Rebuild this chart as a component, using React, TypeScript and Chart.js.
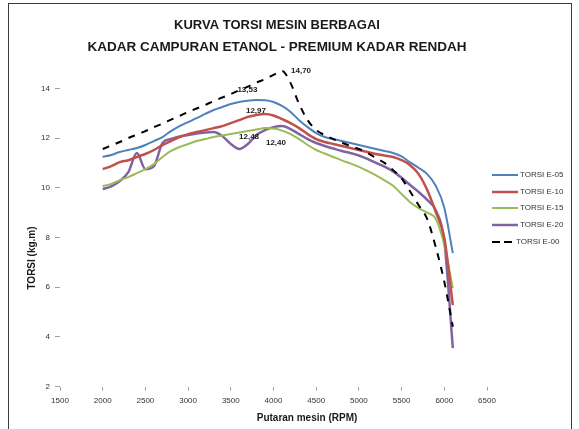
import React, { useEffect, useRef } from 'react';
import { Chart, registerables } from 'chart.js';

Chart.register(...registerables);

// ---------- data ----------
const rpm = [
  2000, 2100, 2200, 2300, 2400, 2500, 2600, 2700, 2800, 2900,
  3000, 3100, 3200, 3300, 3400, 3500, 3600, 3700, 3800, 3900,
  4000, 4100, 4200, 4300, 4400, 4500, 4600, 4700, 4800, 4900,
  5000, 5100, 5200, 5300, 5400, 5500, 5600, 5700, 5800, 5900,
  6000, 6100,
];

const torsiE05 = [
  11.24, 11.32, 11.44, 11.52, 11.60, 11.72, 11.88, 12.04, 12.28, 12.48,
  12.64, 12.80, 12.97, 13.13, 13.25, 13.37, 13.45, 13.50, 13.53, 13.52,
  13.45, 13.29, 13.05, 12.72, 12.44, 12.20, 12.04, 11.96, 11.88, 11.80,
  11.72, 11.64, 11.56, 11.48, 11.40, 11.26, 11.02, 10.80, 10.55, 10.08,
  9.20, 7.37,
];

const torsiE10 = [
  10.75, 10.87, 11.03, 11.11, 11.24, 11.36, 11.52, 11.72, 11.88, 12.04,
  12.16, 12.24, 12.32, 12.40, 12.48, 12.60, 12.72, 12.85, 12.93, 12.97,
  12.91, 12.76, 12.60, 12.40, 12.16, 11.96, 11.84, 11.76, 11.68, 11.60,
  11.52, 11.44, 11.36, 11.30, 11.24, 11.11, 10.91, 10.55, 9.91, 9.02,
  7.98, 5.28,
];

const torsiE15 = [
  10.07, 10.15, 10.31, 10.43, 10.59, 10.75, 10.95, 11.24, 11.48, 11.64,
  11.76, 11.88, 11.96, 12.04, 12.10, 12.16, 12.22, 12.28, 12.34, 12.40,
  12.38, 12.30, 12.16, 11.96, 11.72, 11.52, 11.38, 11.24, 11.10, 10.98,
  10.84, 10.68, 10.50, 10.30, 10.08, 9.75, 9.42, 9.18, 9.00, 8.75,
  7.70, 5.96,
];

const torsiE20 = [
  9.95, 10.06, 10.27, 10.63, 11.40, 10.75, 10.87, 11.80, 11.96, 12.06,
  12.12, 12.18, 12.22, 12.24, 12.08, 11.76, 11.56, 11.76, 12.12, 12.32,
  12.44, 12.48, 12.36, 12.16, 11.96, 11.80, 11.68, 11.58, 11.48, 11.40,
  11.30, 11.16, 11.00, 10.85, 10.66, 10.40, 10.11, 9.83, 9.51, 9.10,
  7.85, 3.55,
];

const torsiE00 = [
  11.56, 11.70, 11.84, 12.00, 12.14, 12.28, 12.44, 12.58, 12.74, 12.89,
  13.05, 13.19, 13.33, 13.49, 13.63, 13.77, 13.93, 14.07, 14.23, 14.37,
  14.54, 14.70, 14.21, 13.37, 12.72, 12.32, 12.12, 11.96, 11.82, 11.68,
  11.56, 11.40, 11.20, 11.00, 10.71, 10.38, 9.85, 9.30, 8.74, 7.61,
  6.22, 4.41,
];

const seriesLabels = ['TORSI E-05', 'TORSI E-10', 'TORSI E-15', 'TORSI E-20', 'TORSI E-00'];
const seriesValues = [torsiE05, torsiE10, torsiE15, torsiE20, torsiE00];

const xTickValues = [1500, 2000, 2500, 3000, 3500, 4000, 4500, 5000, 5500, 6000, 6500];
const yTickValues = [2, 4, 6, 8, 10, 12, 14];

const titleLines = ['KURVA TORSI MESIN BERBAGAI', 'KADAR CAMPURAN ETANOL - PREMIUM KADAR RENDAH'];
const xTitle = 'Putaran mesin (RPM)';
const yTitle = 'TORSI (kg.m)';

// peak value labels: which series / which point
const peakSeries = [4, 0, 1, 3, 2];
const peakIndex = [21, 18, 19, 21, 19];
const peakText = ['14,70', '13,53', '12,97', '12,48', '12,40'];

// ---------- styles ----------
const FONT = '"Liberation Sans", Arial, sans-serif';
const seriesColors = ['#4F81BD', '#C0504D', '#9BBB59', '#8064A2', '#000000'];
const seriesWidths = [2, 2.5, 2, 2.5, 2];
const peakOffsets = [
  [19, 0],
  [-9, -10],
  [-9, -3],
  [-33, 11],
  [11, 15],
];

const decor = {
  id: 'decor',
  beforeDraw(chart: any) {
    const ctx = chart.ctx;
    ctx.save();
    ctx.fillStyle = '#ffffff';
    ctx.fillRect(0, 0, chart.width, chart.height);
    ctx.restore();
  },
  afterDraw(chart: any) {
    const ctx = chart.ctx;
    ctx.save();
    // frame
    ctx.strokeStyle = '#3a3a3a';
    ctx.lineWidth = 1;
    ctx.setLineDash([]);
    ctx.strokeRect(8.5, 3.5, 563, 440);

    // titles
    ctx.fillStyle = '#1a1a1a';
    ctx.textAlign = 'center';
    ctx.textBaseline = 'middle';
    ctx.font = `bold 13px ${FONT}`;
    ctx.fillText(titleLines[0], 277, 25);
    ctx.font = `bold 13.5px ${FONT}`;
    ctx.fillText(titleLines[1], 277, 47);

    // axis titles
    ctx.font = `bold 10px ${FONT}`;
    ctx.fillText(xTitle, 307, 418);
    ctx.save();
    ctx.translate(32, 258);
    ctx.rotate(-Math.PI / 2);
    ctx.fillText(yTitle, 0, 0);
    ctx.restore();

    // legend
    const legendY = [175, 192, 208, 225, 242];
    ctx.font = `8px ${FONT}`;
    ctx.textAlign = 'left';
    for (let i = 0; i < seriesLabels.length; i++) {
      const y = legendY[i];
      ctx.strokeStyle = seriesColors[i];
      ctx.lineWidth = seriesWidths[i];
      if (i === 4) {
        ctx.setLineDash([8, 4]);
        ctx.beginPath();
        ctx.moveTo(492, y);
        ctx.lineTo(512, y);
        ctx.stroke();
        ctx.setLineDash([]);
      } else {
        ctx.beginPath();
        ctx.moveTo(492, y);
        ctx.lineTo(518, y);
        ctx.stroke();
      }
      ctx.fillStyle = '#333333';
      ctx.fillText(seriesLabels[i], i === 4 ? 516 : 520, y);
    }

    // peak labels
    ctx.font = `bold 8px ${FONT}`;
    ctx.textAlign = 'center';
    ctx.fillStyle = '#1a1a1a';
    for (let k = 0; k < peakText.length; k++) {
      const meta = chart.getDatasetMeta(peakSeries[k]);
      const pt = meta.data[peakIndex[k]];
      if (!pt) continue;
      ctx.fillText(peakText[k], pt.x + peakOffsets[k][0], pt.y + peakOffsets[k][1]);
    }
    ctx.restore();
  },
};

export default function App() {
  const canvasRef = useRef<HTMLCanvasElement | null>(null);

  useEffect(() => {
    const canvas = canvasRef.current;
    if (!canvas) return;
    const datasets = seriesValues.map((vals, i) => ({
      label: seriesLabels[i],
      data: rpm.map((r, j) => ({ x: r, y: vals[j] })),
      borderColor: seriesColors[i],
      backgroundColor: seriesColors[i],
      borderWidth: seriesWidths[i],
      borderDash: i === 4 ? [7, 7] : [],
      pointRadius: 0,
      pointHoverRadius: 0,
      fill: false,
      cubicInterpolationMode: 'monotone' as const,
      order: i === 4 ? -1 : i,
    }));

    const chart = new Chart(canvas, {
      type: 'line',
      data: { datasets },
      options: {
        animation: false,
        responsive: false,
        maintainAspectRatio: false,
        events: [],
        layout: { padding: { left: 0, right: 92, top: 38.6, bottom: 22.3 } },
        plugins: {
          legend: { display: false },
          title: { display: false },
          tooltip: { enabled: false },
        },
        scales: {
          x: {
            type: 'linear',
            min: 1500,
            max: 6500,
            afterBuildTicks: (scale: any) => {
              scale.ticks = xTickValues.map((v) => ({ value: v }));
            },
            afterFit: (scale: any) => {
              scale.height = 20;
            },
            ticks: {
              callback: (v: any) => String(v),
              font: { family: FONT, size: 8 },
              color: '#333333',
              padding: 5,
              maxRotation: 0,
              autoSkip: false,
            },
            grid: {
              display: true,
              drawOnChartArea: false,
              drawTicks: true,
              tickLength: 4,
              color: '#a0a0a0',
            },
            border: { display: false },
          },
          y: {
            type: 'linear',
            min: 2,
            max: 16,
            afterBuildTicks: (scale: any) => {
              scale.ticks = yTickValues.map((v) => ({ value: v }));
            },
            afterFit: (scale: any) => {
              scale.width = 60;
            },
            ticks: {
              callback: (v: any) => String(v),
              font: { family: FONT, size: 8 },
              color: '#333333',
              padding: 5,
            },
            grid: {
              display: true,
              drawOnChartArea: false,
              drawTicks: true,
              tickLength: 5,
              color: '#a0a0a0',
            },
            border: { display: false },
          },
        },
      },
      plugins: [decor],
    } as any);

    return () => {
      chart.destroy();
    };
  }, []);

  return (
    <div style={{ position: 'fixed', left: 0, top: 0, width: 579, height: 429, background: '#fff' }}>
      <canvas ref={canvasRef} width={579} height={429} style={{ display: 'block' }} />
    </div>
  );
}
